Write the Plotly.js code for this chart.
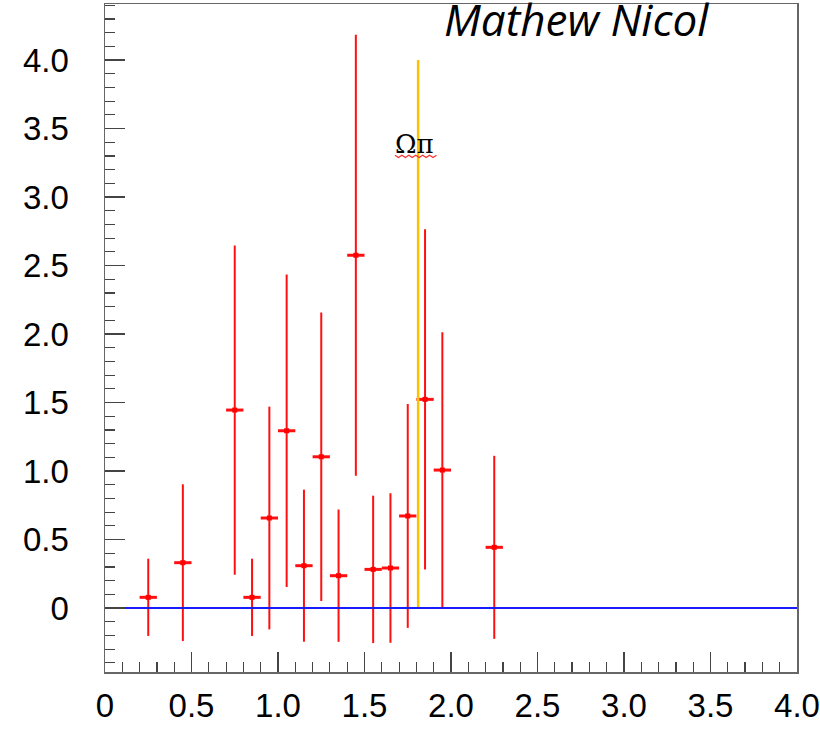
<!DOCTYPE html>
<html>
<head>
<meta charset="utf-8">
<script src="https://cdn.plot.ly/plotly-3.0.1.min.js"></script>
<style>html,body{margin:0;padding:0;background:#fff;}#chart{width:820px;height:729px;}</style>
</head>
<body>
<div id="chart"></div>
<script>
// Data
const binCenters = [0.25, 0.45, 0.75, 0.85, 0.95, 1.05, 1.15, 1.25, 1.35, 1.45, 1.55, 1.65, 1.75, 1.85, 1.95, 2.25];
const values     = [0.078, 0.331, 1.445, 0.078, 0.657, 1.294, 0.309, 1.104, 0.236, 2.575, 0.282, 0.292, 0.672, 1.523, 1.007, 0.443];
const errors     = [0.282, 0.572, 1.202, 0.282, 0.813, 1.140, 0.555, 1.053, 0.483, 1.610, 0.538, 0.546, 0.817, 1.241, 1.006, 0.668];
const halfBin = 0.05;
const thresholdX = [1.81, 1.81];
const thresholdY = [0, 4.0];
const zeroLineX = [0, 4];
const zeroLineY = [0, 0];
const xTickVals = [0, 0.5, 1.0, 1.5, 2.0, 2.5, 3.0, 3.5, 4.0];
const xTickText = ['0', '0.5', '1.0', '1.5', '2.0', '2.5', '3.0', '3.5', '4.0'];
const yTickVals = [0, 0.5, 1.0, 1.5, 2.0, 2.5, 3.0, 3.5, 4.0];
const yTickText = ['0', '0.5', '1.0', '1.5', '2.0', '2.5', '3.0', '3.5', '4.0'];
const labelText = 'Ωπ';
const labelPos = [1.789, 3.385];
const authorText = 'Mathew Nicol';

// wavy (spell-check style) underline under the label, decorative
const waveStart = [1.676, 3.305];
const waveStepX = 0.02, waveAmpY = 0.016, waveSteps = 12;
let wave = 'M ' + waveStart[0] + ' ' + waveStart[1];
for (let i = 1; i <= waveSteps; i++) {
  wave += ' L ' + (waveStart[0] + i * waveStepX).toFixed(4) + ' ' + (waveStart[1] + (i % 2 ? -waveAmpY : 0)).toFixed(4);
}

const traces = [
  {
    x: binCenters, y: values, type: 'scatter', mode: 'markers',
    marker: {symbol: 'square', size: 5, color: '#ff0000'},
    error_y: {type: 'data', array: errors, visible: true, color: '#ff1010', thickness: 2, width: 0},
    error_x: {type: 'constant', value: halfBin, visible: true, color: '#ff1010', thickness: 3, width: 0},
    hoverinfo: 'skip', showlegend: false
  },
  {
    x: thresholdX, y: thresholdY, type: 'scatter', mode: 'lines',
    line: {color: '#ffc000', width: 2.5}, hoverinfo: 'skip', showlegend: false
  },
  {
    x: zeroLineX, y: zeroLineY, type: 'scatter', mode: 'lines',
    line: {color: '#1a1aff', width: 2.2}, hoverinfo: 'skip', showlegend: false
  }
];

const tickFont = {family: '"Liberation Sans", Arial, sans-serif', size: 33, color: '#000'};

const layout = {
  width: 820, height: 729,
  margin: {l: 105, r: 23, t: 4, b: 57, pad: 0},
  paper_bgcolor: '#fff', plot_bgcolor: '#fff',
  showlegend: false,
  xaxis: {
    range: [0, 4], showgrid: false, zeroline: false,
    showline: true, linecolor: '#666', linewidth: 1.5, mirror: true,
    ticks: 'inside', ticklen: 20, tickwidth: 1.2, tickcolor: '#444',
    tickvals: xTickVals, ticktext: xTickText, tickfont: tickFont,
    ticklabelstandoff: 4,
    minor: {dtick: 0.1, ticks: 'inside', ticklen: 10, tickwidth: 1.2, tickcolor: '#444', showgrid: false}
  },
  yaxis: {
    range: [-0.467, 4.409], showgrid: false, zeroline: false,
    showline: true, linecolor: '#666', linewidth: 1.5, mirror: true,
    ticks: 'inside', ticklen: 20, tickwidth: 1.2, tickcolor: '#444',
    tickvals: yTickVals, ticktext: yTickText, tickfont: tickFont,
    ticklabelstandoff: 28,
    minor: {dtick: 0.1, ticks: 'inside', ticklen: 10, tickwidth: 1.2, tickcolor: '#444', showgrid: false}
  },
  annotations: [
    {
      text: authorText, xref: 'paper', yref: 'paper', x: 0.682, y: 1.025,
      xanchor: 'center', yanchor: 'top', showarrow: false,
      font: {family: '"Open Sans", sans-serif', size: 44, color: '#000', style: 'italic'}
    },
    {
      text: labelText, xref: 'x', yref: 'y', x: labelPos[0], y: labelPos[1],
      xanchor: 'center', yanchor: 'middle', showarrow: false,
      font: {family: '"DejaVu Serif", "Liberation Serif", serif', size: 26, color: '#000'}
    }
  ],
  shapes: [
    {
      type: 'path', xref: 'x', yref: 'y', path: wave,
      line: {color: '#ff3030', width: 1.2}
    }
  ]
};

Plotly.newPlot('chart', traces, layout, {displayModeBar: false, staticPlot: true});
</script>
</body>
</html>
